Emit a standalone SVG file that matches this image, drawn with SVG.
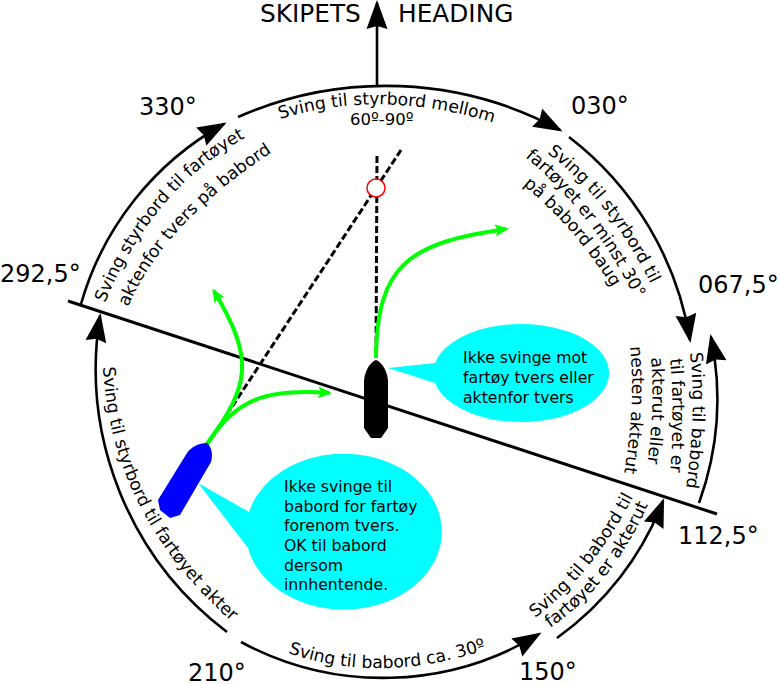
<svg xmlns="http://www.w3.org/2000/svg" width="778" height="684" viewBox="0 0 778 684">
<style>
text{font-family:"DejaVu Sans",Verdana,sans-serif;fill:#000}
.big{font-size:24px}
.sm{font-size:17.2px}
.bub{font-size:15.7px}
.arc{fill:none;stroke:#000;stroke-width:2.6;marker-end:url(#ah)}
.plain{fill:none;stroke:#000;stroke-width:3}
.dash{fill:none;stroke:#000;stroke-width:3;stroke-dasharray:7 3}
.gr{fill:none;stroke:#0f0;stroke-width:4;marker-end:url(#ag)}
</style>
<defs>
<marker id="ah" markerUnits="userSpaceOnUse" markerWidth="32" markerHeight="26" refX="26" refY="12" orient="auto"><path d="M0,1.5L29,12L0,22.5L3,12Z" fill="#000"/></marker>
<marker id="ag" markerUnits="userSpaceOnUse" markerWidth="16" markerHeight="14" refX="11" refY="6" orient="auto"><path d="M0,0L14,6L0,12L3,6Z" fill="#0f0"/></marker>
<path id="t1" d="M105,303Q156,180 260,130"/>
<path id="t2" d="M128,307Q166,219 280,147"/>
<path id="t3" d="M280,119Q390,85 515,130"/>
<path id="t4" d="M547,153Q618,205 665,315"/>
<path id="t5" d="M525,157Q604,222 650,330"/>
<path id="t6" d="M523,185Q590,240 630,320"/>
<path id="t7" d="M690,353Q698,420 682,513"/>
<path id="t8" d="M670,359Q676,420 668,497"/>
<path id="t9" d="M651,358Q656,413 644,487"/>
<path id="t10" d="M630,347Q637,410 620,495"/>
<path id="t11" d="M535,618Q600,569 643,477"/>
<path id="t12" d="M550,628Q620,580 657,483"/>
<path id="t13" d="M288,653Q390,688 507,642"/>
<path id="t14" d="M103,367Q111,522 245,633"/>
</defs>

<g id="connectors">
<path class="plain" d="M68,301L717,514"/>
<path class="arc" d="M377,85L377,3"/>
<path class="arc" d="M81,304A300,300 0 0 1 224,124"/>
<path class="arc" d="M238,117A366,366 0 0 1 560,130"/>
<path class="arc" d="M569,137A320,320 0 0 1 690,340"/>
<path class="arc" d="M699,503A307,307 0 0 0 711,337"/>
<path class="arc" d="M557,638A300,300 0 0 0 663,501"/>
<path class="arc" d="M241,642A299,299 0 0 0 539,634"/>
<path class="arc" d="M227,632A330,330 0 0 1 100,316"/>
<path class="dash" d="M377,156L376,358"/>
<path class="dash" d="M401,150L230,410"/>
<circle cx="376" cy="188" r="9" fill="#fff" stroke="#f00" stroke-width="1.5"/>
<path class="gr" d="M376,358C377,265 408,243 506,229"/>
<path class="gr" d="M207,444C250,385 255,360 214,291"/>
<path class="gr" d="M207,444C235,400 265,388 329,393"/>
</g>

<g id="ship-black"><path fill="#000" d="M376,360C382,362 388,372 388,382L388,428L381,438L371,438L364,428L364,382C364,372 370,362 376,360Z"/></g>
<g id="ship-blue"><path fill="#00f" d="M207,443C199,443 191,447 187,453L158,500L160,510L170,518L180,515L211,462C213,456 212,447 207,443Z"/></g>

<g id="bubble-1">
<path fill="#0ff" d="M388,368L435,363A88,49 0 1 1 435,383Z"/>
<text class="bub" x="463" y="363">Ikke svinge mot</text>
<text class="bub" x="463" y="383">fartøy tvers eller</text>
<text class="bub" x="463" y="403">aktenfor tvers</text>
</g>
<g id="bubble-2">
<path fill="#0ff" d="M198,483L249,512A98,78 0 1 1 248,548Z"/>
<text class="bub" x="284" y="492">Ikke svinge til</text>
<text class="bub" x="284" y="512">babord for fartøy</text>
<text class="bub" x="284" y="531">forenom tvers.</text>
<text class="bub" x="284" y="551">OK til babord</text>
<text class="bub" x="284" y="571">dersom</text>
<text class="bub" x="284" y="590">innhentende.</text>
</g>

<g id="labels">
<text class="big" x="260" y="22" style="font-size:24.8px">SKIPETS</text>
<text class="big" x="398" y="22" style="font-size:24.8px">HEADING</text>
<text class="big" x="139" y="115">330°</text>
<text class="big" x="571" y="114">030°</text>
<text class="big" x="0" y="282">292,5°</text>
<text class="big" x="698" y="293">067,5°</text>
<text class="big" x="678" y="544">112,5°</text>
<text class="big" x="519" y="680">150°</text>
<text class="big" x="188" y="681">210°</text>
<text class="sm"><textPath href="#t1">Sving styrbord til fartøyet</textPath></text>
<text class="sm"><textPath href="#t2">aktenfor tvers på babord</textPath></text>
<text class="sm"><textPath href="#t3">Sving til styrbord mellom</textPath></text>
<text class="sm" x="350" y="125" style="font-size:16.5px">60º-90º</text>
<text class="sm"><textPath href="#t4">Sving til styrbord til</textPath></text>
<text class="sm"><textPath href="#t5">fartøyet er minst 30°</textPath></text>
<text class="sm"><textPath href="#t6">på babord baug</textPath></text>
<text class="sm"><textPath href="#t7">Sving til babord</textPath></text>
<text class="sm"><textPath href="#t8">til fartøyet er</textPath></text>
<text class="sm"><textPath href="#t9">akterut eller</textPath></text>
<text class="sm"><textPath href="#t10">nesten akterut</textPath></text>
<text class="sm"><textPath href="#t11">Sving til babord til</textPath></text>
<text class="sm"><textPath href="#t12">fartøyet er akterut</textPath></text>
<text class="sm"><textPath href="#t13">Sving til babord ca. 30º</textPath></text>
<text class="sm"><textPath href="#t14">Sving til styrbord til fartøyet akter</textPath></text>
</g>
</svg>
